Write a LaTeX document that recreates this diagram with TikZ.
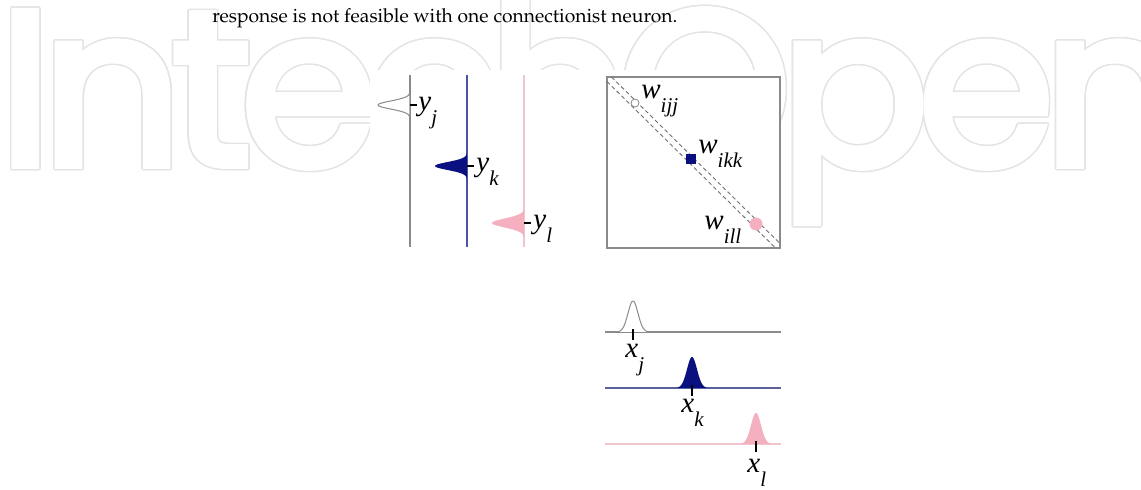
\documentclass[tikz,border=0pt]{standalone}
\usepackage{fontspec}
\usepackage{graphicx}
\usepackage{contour}
\newfontfamily\wmfont{Poppins}[FakeBold=3.5, LetterSpace=-5]
\newfontfamily\labfont{Liberation Serif}
\definecolor{navy}{HTML}{0A1080}
\definecolor{pinkf}{HTML}{F5B0C0}
\definecolor{wmgray}{HTML}{E4E4E4}
\definecolor{linegray}{HTML}{8A8A8A}
\definecolor{linenavy}{HTML}{4A55A8}
\definecolor{linepink}{HTML}{F2C4CE}
\definecolor{dashgray}{HTML}{707070}
\contourlength{0.7pt}
\newcommand{\lbl}[2]{{\labfont\itshape\fontsize{14.5}{14.5}\selectfont #1\raisebox{-0.5em}{\fontsize{10.5}{10.5}\selectfont #2}}}
\tikzset{
  lab/.style={anchor=base west, inner sep=0pt, text=black},
  tick/.style={black, line width=0.6pt},
  gauss/.style={line width=0.5pt},
  dline/.style={dashgray, line width=0.45pt, dash pattern=on 2pt off 1.4pt},
}
\begin{document}
\begin{tikzpicture}[x=0.5pt,y=-0.5pt]
\useasboundingbox (0,0) rectangle (1141,489);
\fill[white] (0,0) rectangle (1141,489);
% watermark
\node[anchor=base west, inner sep=0pt] (wm) at (-2,165) {\wmfont\fontsize{110}{110}\selectfont\contour{wmgray}{\textcolor{white}{IntechOpen}}};
% top text
\node[anchor=base west, inner sep=0pt] (txt) at (212,22) {\resizebox{232.5pt}{!}{\fontencoding{OT1}\fontfamily{ppl}\selectfont response is not feasible with one connectionist neuron.}};
% figure background
\fill[white] (370,70) rectangle (781,489);
% ---------- left panel ----------
\draw[linegray, line width=0.6pt] (410,75) -- (410,247);
\draw[linenavy, line width=0.6pt] (467,75) -- (467,247);
\draw[linepink, line width=0.6pt] (524,75) -- (524,247);
\filldraw[linegray, fill=white, gauss] plot[domain=-3.2:3.2, samples=50, smooth] ({410-32*exp(-0.5*(\x)*(\x))}, {105+4*\x}) -- cycle;
\fill[navy] plot[domain=-3.2:3.2, samples=50, smooth] ({467-32*exp(-0.5*(\x)*(\x))}, {166+4*\x}) -- cycle;
\fill[pinkf] plot[domain=-3.2:3.2, samples=50, smooth] ({524-32*exp(-0.5*(\x)*(\x))}, {223+4.5*\x}) -- cycle;
\draw[tick] (410,105) -- (417,105);
\draw[tick] (467,166) -- (474,166);
\draw[tick] (524,223) -- (531,223);
\node[lab] (yj) at (418,110) {\lbl{y}{j}};
\node[lab] (yk) at (476,171) {\lbl{y}{k}};
\node[lab] (yl) at (533,228) {\lbl{y}{l}};
% ---------- right panel ----------
\draw[linegray, line width=0.6pt] (607,77) rectangle (780,248);
\draw[dline] (611.5,77) -- (780,243.5);
\draw[dline] (607,81.5) -- (775.5,248);
\node[circle, draw=linegray, fill=white, line width=0.4pt, inner sep=0pt, minimum size=4pt] (mj) at (635,103) {};
\node[fill=navy, inner sep=0pt, minimum size=5pt] (mk) at (691,159) {};
\node[circle, fill=pinkf, inner sep=0pt, minimum size=6.5pt] (ml) at (756,224) {};
\node[lab] (wj) at (641,98) {\lbl{w}{ijj}};
\node[lab] (wk) at (698,153) {\lbl{w}{ikk}};
\node[lab] (wl) at (704,229) {\lbl{w}{ill}};
% ---------- bottom panel ----------
\draw[linegray, line width=0.6pt] (605,332) -- (781,332);
\draw[linenavy!70!gray, line width=0.6pt] (605,388) -- (781,388);
\draw[linepink, line width=0.6pt] (605,444) -- (781,444);
\filldraw[linegray, fill=white, gauss] plot[domain=-3.2:3.2, samples=50, smooth] ({633+5*\x}, {332-31*exp(-0.5*(\x)*(\x))});
\fill[navy] plot[domain=-3.2:3.2, samples=50, smooth] ({692+5*\x}, {388-31*exp(-0.5*(\x)*(\x))}) -- cycle;
\fill[pinkf] plot[domain=-3.2:3.2, samples=50, smooth] ({756+5*\x}, {444-31*exp(-0.5*(\x)*(\x))}) -- cycle;
\draw[tick] (633,329) -- (633,340);
\draw[tick] (692,385) -- (692,396);
\draw[tick] (756,441) -- (756,452);
\node[lab] (xj) at (625,357) {\lbl{x}{j}};
\node[lab] (xk) at (681,412) {\lbl{x}{k}};
\node[lab] (xl) at (747,472) {\lbl{x}{l}};
\end{tikzpicture}
\end{document}
